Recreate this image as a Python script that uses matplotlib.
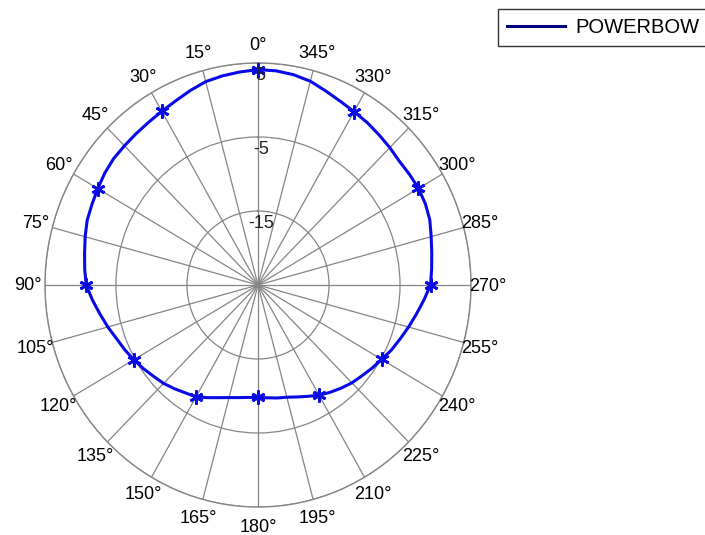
import numpy as np
import matplotlib.pyplot as plt

plt.rcParams['font.family'] = ['Liberation Sans', 'DejaVu Sans']

# pattern, dB every 5 degrees (0..360)
angles_deg = list(range(0, 365, 5))
gain_db = [4.1, 3.9, 3.7, 3.45, 2.95, 2.45, 2.1, 1.85, 1.7, 1.6, 1.55, 1.35,
           1.05, 0.8, 0.6, 0.2, -0.2, -0.5, -0.8, -1.6, -2.4, -3.1, -3.8, -4.3,
           -4.8, -5.3, -5.8, -6.2, -6.7, -7.2, -7.55, -8.2, -8.8, -9.25, -9.55, -9.75,
           -9.8, -9.7, -9.5, -9.3, -8.9, -8.4, -7.8, -7.3, -6.8, -6.3, -5.9, -5.4,
           -4.9, -4.25, -3.7, -3.05, -2.35, -1.55, -0.7, -0.45, -0.15, 0.25, 0.75, 1.0,
           1.1, 1.05, 1.0, 1.25, 1.5, 1.8, 2.05, 2.4, 2.9, 3.5, 3.85, 4.05, 4.1]
ring_values = [-15, -5, 5]
series_name = 'POWERBOW'

W, H = 705, 535
fig = plt.figure(figsize=(W / 100, H / 100), dpi=100)
ax = fig.add_axes([0.0638, 0.0523, 0.6043, 0.83], projection='polar')
ax.set_aspect('auto')
ax.set_theta_zero_location('N')
ax.set_theta_direction(1)
ax.set_ylim(-25, 5)

theta = np.deg2rad(angles_deg)
ax.plot(theta, gain_db, color='#0a0ae6', lw=2.2, marker=(6, 2, 0), ms=10,
        markevery=6, mew=2, label=series_name, zorder=3)

grid_angles = list(range(0, 360, 15))
ax.set_thetagrids(grid_angles, [''] * len(grid_angles))
ax.set_rgrids(ring_values, labels=['', '', ''])
ax.grid(True, color='#858585', lw=0.9, ls='-')
ax.spines['polar'].set_color('#858585')
ax.spines['polar'].set_linewidth(1.0)

# angle labels on an ellipse around the centre, in pixels (like matlab's polar)
cx, cy, rx, ry = 258, 286, 230, 241
for a in grid_angles:
    t = np.deg2rad(a)
    px = cx - rx * np.sin(t)
    py = cy - ry * np.cos(t)
    fig.text(px / W, 1 - py / H, f'{a}°', ha='center', va='center', fontsize=13)

for v in ring_values:
    ax.annotate(str(v), xy=(0, v), xytext=(2, -3), textcoords='offset points',
                ha='center', va='top', fontsize=13, color='#222222', zorder=4)

leg = fig.legend(loc='upper right', bbox_to_anchor=(1.011, 0.991), fontsize=14.5,
                 frameon=True, fancybox=False, handlelength=2.9, borderpad=0.45,
                 handletextpad=0.5, borderaxespad=0.2)
leg.get_frame().set_edgecolor('black')
leg.get_frame().set_linewidth(1.0)
leg.get_lines()[0].set_color('#000080')
leg.get_lines()[0].set_marker('')

fig.savefig('out.png', dpi=100)
